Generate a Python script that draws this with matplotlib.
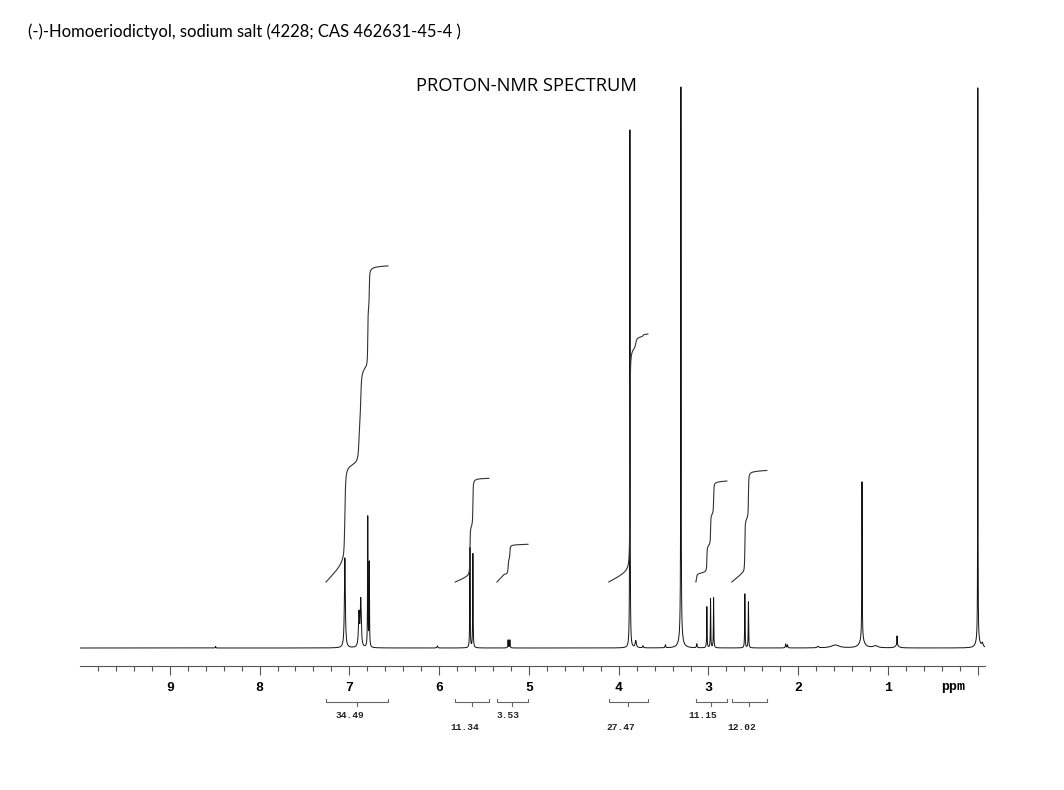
import numpy as np
import matplotlib
matplotlib.use("Agg")
import matplotlib.pyplot as plt

# Peak table: position (ppm), height (px above baseline), half-width (ppm)
peak_ppm = [8.49, 7.05, 6.893, 6.873, 6.795, 6.778, 6.02, 5.657, 5.624, 5.232, 5.212,
            3.875, 3.81, 3.73, 3.48, 3.307, 3.307, 3.13, 3.018, 2.977, 2.943,
            2.595, 2.555, 2.14, 2.12, 1.78, 1.59, 1.29, 1.29, 1.14, 0.90, 0.90,
            0.0, 0.0, -0.05]
peak_height = [1.5, 90, 33, 47, 130, 84, 2, 100, 94, 8, 8,
               518, 7, 2, 3, 547, 14, 4, 41, 49, 50,
               54, 46, 4, 3, 1.5, 3, 158, 8, 2, 9, 3,
               550, 10, 4]
peak_width = [0.003, 0.006, 0.0066, 0.0066, 0.0025, 0.0025, 0.005, 0.0025, 0.0025, 0.003, 0.003,
              0.0022, 0.008, 0.005, 0.004, 0.0022, 0.02, 0.004, 0.0025, 0.0025, 0.0025,
              0.0025, 0.0025, 0.004, 0.004, 0.01, 0.05, 0.0025, 0.03, 0.03, 0.002, 0.02,
              0.0015, 0.02, 0.01]

# Integration regions (ppm), values and label positions
int_start = [7.26, 5.82, 5.356, 4.11, 3.14, 2.74]
int_end = [6.57, 5.445, 5.01, 3.675, 2.795, 2.35]
int_value = [34.49, 11.34, 3.53, 27.47, 11.15, 12.02]
int_drift = [16, 5, 7, 9, 4, 7]
int_label_ppm = [6.99, 5.72, 5.23, 3.975, 3.06, 2.63]
int_label_row = [0, 1, 0, 1, 0, 1]

XMIN, XMAX = 10.0, -0.08
PX_PER_UNIT = 8.7   # integral rise per integral unit
INT_BASE = 66       # integral curves start height

grid = np.linspace(XMIN, XMAX, 40000)
ppm = np.unique(np.concatenate([grid, peak_ppm]))[::-1]


def spectrum(x):
    y = np.zeros_like(x)
    for c, h, w in zip(peak_ppm, peak_height, peak_width):
        y += h / (1 + ((x - c) / w) ** 2)
    return y


intensity = spectrum(ppm)

fig = plt.figure(figsize=(10.64, 7.90), dpi=100)
ax = fig.add_axes([80 / 1064, 1 - 666 / 790, 905 / 1064, 586 / 790])
ax.plot(ppm, intensity, color="#111111", lw=0.7)

# integral curves
for a, b, val, d in zip(int_start, int_end, int_value, int_drift):
    xs = np.linspace(a, b, 4000)
    xs = np.unique(np.concatenate([xs, [p for p in peak_ppm if b < p < a]]))[::-1]
    ys = spectrum(xs)
    cum = np.concatenate([[0], np.cumsum(0.5 * (ys[1:] + ys[:-1]) * -np.diff(xs))])
    cum = cum / cum[-1]
    i0 = np.argmax(cum > 0.02)
    frac = np.clip((a - xs) / (a - xs[i0]), 0, 1)
    ax.plot(xs, INT_BASE + d * frac + val * PX_PER_UNIT * cum, color="#333333", lw=0.8)

# integration brackets and values
for a, b, val, lp, row in zip(int_start, int_end, int_value, int_label_ppm, int_label_row):
    mid = 0.5 * (a + b)
    ax.plot([a, a, b, b], [-51, -54, -54, -51], color="#666666", lw=0.8, clip_on=False)
    ax.plot([mid, mid], [-54, -58], color="#666666", lw=0.8, clip_on=False)
    ax.text(lp, -68 - 12 * row, f"{val:.2f}", ha="center", va="center", fontsize=6.8,
            family="Liberation Mono", fontweight="bold", color="#222222", clip_on=False)

ax.set_xlim(XMIN, XMAX)
ax.set_ylim(-18, 568)
for s in ["top", "left", "right"]:
    ax.spines[s].set_visible(False)
ax.spines["bottom"].set_color("#555555")
ax.spines["bottom"].set_linewidth(0.8)
ax.set_yticks([])
ax.set_xticks(np.arange(0, 10, 1))
ax.set_xticklabels([""] + [str(i) for i in range(1, 10)])
ax.set_xticks(np.arange(0, 9.9, 0.2), minor=True)
ax.tick_params(axis="x", which="major", length=6.5, width=0.8, color="#555555", pad=5,
               labelsize=9.5)
ax.tick_params(axis="x", which="minor", length=3.5, width=0.8, color="#555555")
for lab in ax.get_xticklabels():
    lab.set_family("Liberation Mono")
    lab.set_fontweight("bold")
ax.text(0.28, -39, "ppm", ha="center", va="center", fontsize=9.5, family="Liberation Mono",
        fontweight="bold", clip_on=False)

fig.text(28 / 1064, 1 - 32 / 790, "(-)-Homoeriodictyol, sodium salt (4228; CAS 462631-45-4 )",
         ha="left", va="center", fontsize=12.0, family="Lato")
fig.text(526 / 1064, 1 - 86 / 790, "PROTON-NMR SPECTRUM", ha="center", va="center",
         fontsize=13.2, family="Open Sans")

fig.savefig("out.png", dpi=100)
